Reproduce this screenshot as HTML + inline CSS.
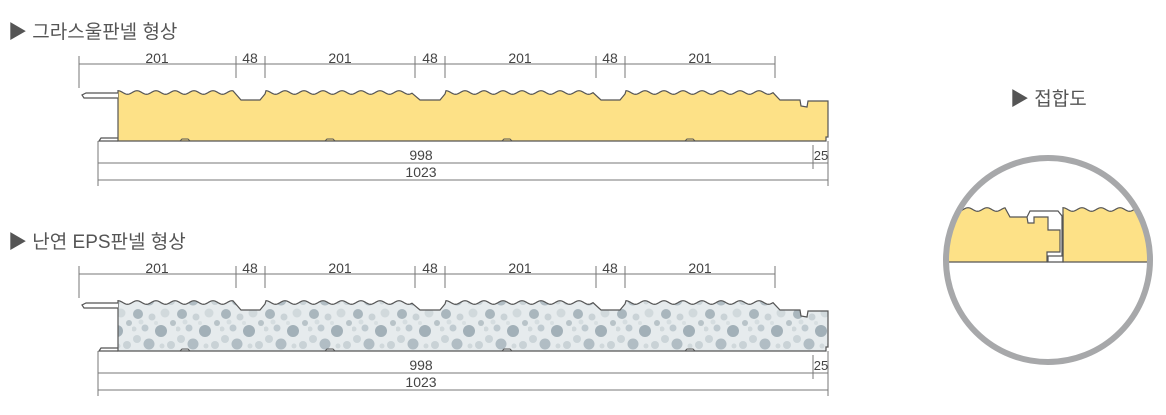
<!DOCTYPE html>
<html><head><meta charset="utf-8"><style>
body{margin:0;background:#fff;}
svg{display:block;font-family:"Liberation Sans","Noto Sans CJK KR","NanumGothic",sans-serif;}
</style></head><body>
<svg id="s" width="1166" height="415" viewBox="0 0 1166 415" xmlns="http://www.w3.org/2000/svg">
<defs>
<pattern id="eps" width="44" height="44" patternUnits="userSpaceOnUse">
<rect width="44" height="44" fill="#e6ebed"/>
<circle cx="6" cy="6" r="5" fill="#a9b6bd"/>
<circle cx="20" cy="9" r="3.5" fill="#c9d2d6"/>
<circle cx="33" cy="5" r="4.5" fill="#d1d9dc"/>
<circle cx="13" cy="20" r="3.5" fill="#bfcad0"/>
<circle cx="29" cy="23" r="6" fill="#a2b0b8"/>
<circle cx="5" cy="31" r="4" fill="#cbd4d8"/>
<circle cx="17" cy="36" r="5.5" fill="#b1bdc4"/>
<circle cx="39" cy="37" r="4" fill="#c9d2d6"/>
<circle cx="41" cy="15" r="3" fill="#b8c3c8"/>
<circle cx="9" cy="14" r="2.5" fill="#d5dde0"/>
<circle cx="24" cy="15" r="2" fill="#d8dfe2"/>
<circle cx="30" cy="38" r="2.5" fill="#d0d8db"/>
<circle cx="2" cy="21" r="2.5" fill="#d0d8db"/>
</pattern>
<clipPath id="cc"><circle cx="1048" cy="260" r="100"/></clipPath>
</defs>
<g id="g"></g>
</svg>
<script>
var NS="http://www.w3.org/2000/svg",g=document.getElementById('g');
function el(t,a,txt){var e=document.createElementNS(NS,t);for(var k in a)e.setAttribute(k,a[k]);if(txt)e.textContent=txt;g.appendChild(e);return e;}
function waves(x0,x1,y){var s="",p=19;for(var x=x0;x<=x1;x+=1){var yy=y-1.5-1.8*Math.cos(2*Math.PI*(x-x0)/p);s+=" L"+x+","+yy.toFixed(2);}return s;}
function panel(dy,fill){
 var T=94+dy,B=141+dy,N=100+dy;
 var d="M118,"+(T+3)+" L118,"+(T);
 d+=waves(118,233,T);
 d+=" L241,"+N+" L260,"+N+" L265,"+T;
 d+=waves(266,412,T);
 d+=" L420,"+N+" L440,"+N+" L445,"+T;
 d+=waves(446,593,T);
 d+=" L601,"+N+" L620,"+N+" L625,"+T;
 d+=waves(626,773,T);
 d+=" L780,"+(T+6)+" L800,"+(T+6)+" L801,"+(T+12)+" L807,"+(T+13)+" L808,"+(T+7)+" L828,"+(T+7)+" L828,"+(B-4)+" L826,"+(B-4)+" L826,"+B+" L500,"+B+" L118,"+B+" Z";
 el('path',{d:d,fill:fill,stroke:'#555','stroke-width':1.2});
 el('path',{d:"M118,"+(T+4)+" L84,"+(T+4)+" L82,"+(T+1)+" L86,"+(T-1)+" L118,"+(T-1),fill:'#fff',stroke:'#555','stroke-width':1.2});
 el('path',{d:"M118,"+(B-3)+" L101,"+(B-3)+" L99,"+B+" L118,"+B,fill:'none',stroke:'#555','stroke-width':1.2});
 [[180,190],[325,335],[502,512],[685,695]].forEach(function(b){el('path',{d:"M"+b[0]+","+B+" L"+(b[0]+2)+","+(B-2)+" L"+(b[1]-2)+","+(B-2)+" L"+b[1]+","+B,fill:'none',stroke:'#555','stroke-width':1});});
 var dt=64+dy;
 el('line',{x1:79,y1:dt,x2:775,y2:dt,stroke:'#777','stroke-width':1});
 [79,236,265,415,445,596,625,775].forEach(function(x){el('line',{x1:x,y1:dt-8,x2:x,y2:(x==79?dt+24:dt+14),stroke:'#777','stroke-width':1});});
 [[157,'201'],[250,'48'],[340,'201'],[430,'48'],[520,'201'],[610,'48'],[700,'201']].forEach(function(t){el('text',{x:t[0],y:dt-1,'font-size':14,fill:'#444','text-anchor':'middle'},t[1]);});
 el('line',{x1:98,y1:B,x2:98,y2:B+45,stroke:'#777','stroke-width':1});
 el('line',{x1:828,y1:B,x2:828,y2:B+45,stroke:'#777','stroke-width':1});
 el('line',{x1:813,y1:B+4,x2:813,y2:B+28,stroke:'#777','stroke-width':1});
 el('line',{x1:98,y1:B+22,x2:828,y2:B+22,stroke:'#777','stroke-width':1});
 el('line',{x1:98,y1:B+39,x2:828,y2:B+39,stroke:'#777','stroke-width':1});
 el('text',{x:421,y:B+19,'font-size':14,fill:'#444','text-anchor':'middle'},'998');
 el('text',{x:421,y:B+36,'font-size':14,fill:'#444','text-anchor':'middle'},'1023');
 el('text',{x:821,y:B+19,'font-size':13,fill:'#444','text-anchor':'middle'},'25');
}
panel(0,'#fde187');
panel(210,'url(#eps)');
el('text',{x:8,y:38,'font-size':19,fill:'#555'},'▶ 그라스울판넬 형상');
el('text',{x:8,y:248,'font-size':19,fill:'#555'},'▶ 난연 EPS판넬 형상');
el('text',{x:1010,y:105,'font-size':19,fill:'#555'},'▶ 접합도');
var c=el('g',{'clip-path':'url(#cc)'});
function cp(d,f){var e=document.createElementNS(NS,'path');e.setAttribute('d',d);e.setAttribute('fill',f);e.setAttribute('stroke','#555');e.setAttribute('stroke-width',1.2);c.appendChild(e);}
cp("M930,211"+waves(930,1005,211)+" L1010,217 L1027,217 L1028,223 L1034,223 L1034,217 L1048,217 L1048,230 L1060,230 L1060,252 L1047,252 L1047,262 L930,262 Z","#fde187");
cp("M1063,211"+waves(1063,1170,211)+" L1170,262 L1063,262 Z","#fde187");
cp("M1027,217 L1030,211 L1058,211 L1062,216 L1062,256 L1048,256 L1048,262 L1063,262 L1063,214","none");
el('circle',{cx:1048,cy:260,r:102,fill:'none',stroke:'#a7a8aa','stroke-width':6});
</script>
</body></html>
